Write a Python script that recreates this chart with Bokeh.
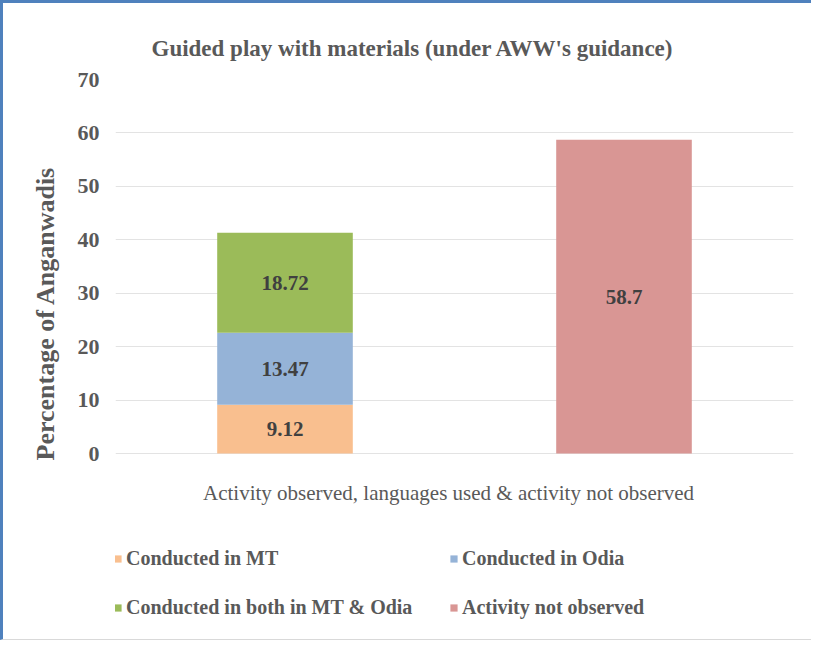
from bokeh.plotting import figure
from bokeh.models import ColumnDataSource, Legend, LegendItem, FactorRange, Title, Label
from bokeh.embed import file_html
from bokeh.resources import INLINE
from bokeh.core.properties import value

# ---- data ----
categories = ["Activity observed", "Activity not observed"]
series_names = ["Conducted in MT", "Conducted in Odia",
                "Conducted in both in MT & Odia", "Activity not observed"]
conducted_mt = [9.12, 0]
conducted_odia = [13.47, 0]
conducted_both = [18.72, 0]
not_observed = [0, 58.7]
y_ticks = [0, 10, 20, 30, 40, 50, 60, 70]
colors = ["#F9BF8F", "#95B3D7", "#9BBB59", "#D99694"]

title_text = "Guided play with materials (under AWW's  guidance)"
x_label = "Activity observed, languages used & activity not observed"
y_label = "Percentage of Anganwadis"

FONT = "Liberation Serif"
GRAY = "#595959"

keys = ["mt", "odia", "both", "not"]
source = ColumnDataSource(dict(cat=categories, mt=conducted_mt, odia=conducted_odia,
                               both=conducted_both, **{"not": not_observed}))

# the lower part of the frame (below 0) holds the axis title and the legend
p = figure(x_range=FactorRange(*categories), y_range=(-35, 70),
           width=811, height=640, output_backend="svg", toolbar_location=None,
           min_border_left=112, min_border_right=21, min_border_top=76,
           min_border_bottom=3)
p.styles = {"border-top": "3px solid #4F81BD", "border-left": "3px solid #4F81BD",
            "border-bottom": "1px solid #d9d9d9"}
p.outline_line_color = None
p.background_fill_color = "white"
p.border_fill_color = "white"

renderers = p.vbar_stack(keys, x="cat", width=0.4, source=source, color=colors,
                         line_color=None)

# data labels at segment centers
lab_x, lab_y, lab_t = [], [], []
for i, c in enumerate(categories):
    bottom = 0.0
    for arr in (conducted_mt, conducted_odia, conducted_both, not_observed):
        v = arr[i]
        if v > 0:
            lab_x.append(c)
            lab_y.append(bottom + v / 2)
            lab_t.append(f"{v:g}")
        bottom += v
p.text(x=lab_x, y=lab_y, text=lab_t, text_align="center", text_baseline="middle",
       text_font=value(FONT), text_font_style="bold", text_font_size="21px",
       text_color="#404040")

# chart title
p.add_layout(Title(text=title_text, align="left", offset=36, text_font=FONT,
                   text_font_size="23px", text_font_style="bold", text_color=GRAY,
                   standoff=38), "above")

# y axis
p.yaxis.ticker = y_ticks
p.ygrid.ticker = y_ticks
p.yaxis.axis_line_color = None
p.yaxis.major_tick_line_color = None
p.yaxis.minor_tick_line_color = None
p.yaxis.major_label_standoff = 10
p.yaxis.major_label_text_font = FONT
p.yaxis.major_label_text_font_size = "22px"
p.yaxis.major_label_text_font_style = "bold"
p.yaxis.major_label_text_color = GRAY

# y axis title (placed beside the 0..70 part of the axis)
p.add_layout(Title(text=y_label, align="left", offset=180, text_font=FONT,
                   text_font_size="26px", text_font_style="bold", text_color=GRAY,
                   standoff=29), "left")

# x axis: baseline is the 0 grid line; axis title drawn under it
p.xaxis.visible = False
p.add_layout(Label(x=1.0, y=-7.3, x_offset=-6, text=x_label, text_align="center",
                   text_baseline="middle", text_font=FONT, text_font_size="21px",
                   text_color=GRAY))

p.xgrid.grid_line_color = None
p.ygrid.grid_line_color = "#e3e3e3"
p.ygrid.grid_line_width = 1

legend = Legend(items=[LegendItem(label=n, renderers=[r]) for n, r in zip(series_names, renderers)],
                location=(-2, 21), orientation="horizontal", ncols=2,
                glyph_width=9, glyph_height=9, label_standoff=4, spacing=26,
                label_width=297,
                padding=0, margin=0, border_line_color=None, background_fill_alpha=0,
                label_text_font=FONT, label_text_font_size="20px",
                label_text_font_style="bold", label_text_color=GRAY, label_height=22)
p.add_layout(legend, "center")

open("out.html", "w").write(file_html(p, INLINE))
